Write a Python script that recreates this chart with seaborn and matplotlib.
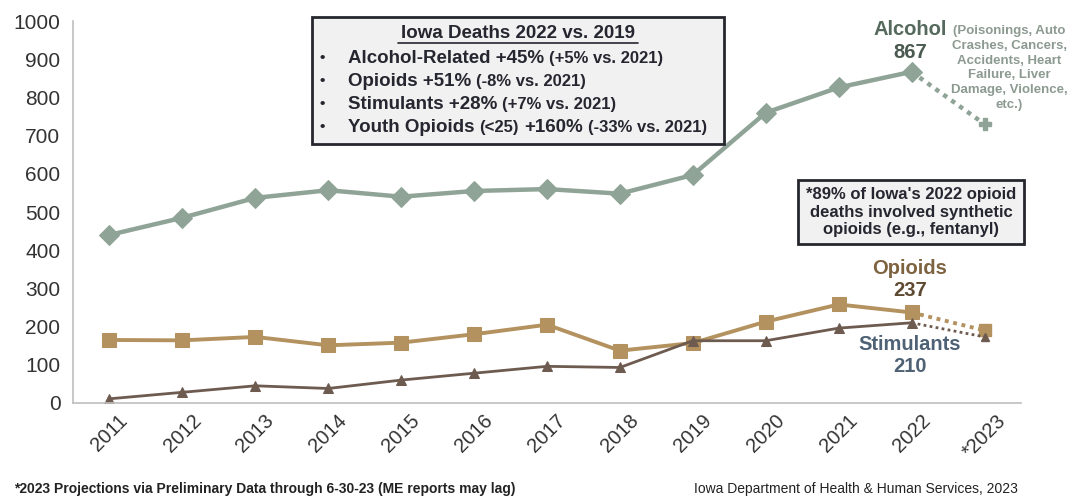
import numpy as np
import pandas as pd
import matplotlib
matplotlib.use('Agg')
import matplotlib.pyplot as plt
import seaborn as sns

years = ['2011', '2012', '2013', '2014', '2015', '2016', '2017', '2018',
         '2019', '2020', '2021', '2022', '*2023']
alcohol = [440, 485, 537, 557, 540, 555, 560, 548, 597, 760, 826, 867, 730]
opioids = [165, 164, 173, 151, 158, 180, 205, 137, 157, 213, 258, 237, 190]
stimulants = [11, 28, 45, 38, 60, 78, 96, 93, 163, 163, 196, 210, 173]

c_alc = '#8fa497'
c_opi = '#b3925f'
c_sti = '#6e5b50'

sns.set_style('white')
plt.rcParams['font.family'] = ['Liberation Sans', 'DejaVu Sans']

W, H = 1068, 498
fig = plt.figure(figsize=(W / 100, H / 100), dpi=100)
ax = fig.add_axes([73 / W, 1 - 403 / H, (1021 - 73) / W, (403 - 21) / H])


def px(x, y):
    return x / W, 1 - y / H


x = np.arange(len(years))
series = [
    (alcohol, c_alc, 'D', 10.5, 3.2),
    (opioids, c_opi, 's', 10, 2.8),
    (stimulants, c_sti, '^', 7.5, 2.0),
]
for vals, col, mk, ms, lw in series:
    df = pd.DataFrame({'x': x, 'y': vals})
    solid = df.iloc[:-1]
    proj = df.iloc[-2:]
    sns.lineplot(data=proj, x='x', y='y', ax=ax, color=col, linewidth=lw,
                 linestyle=(0, (1, 1.2)), marker=None)
    sns.lineplot(data=solid, x='x', y='y', ax=ax, color=col, linewidth=lw,
                 marker=mk, markersize=ms, markeredgecolor=col)
    pm = 'P' if mk == 'D' else mk
    ax.plot(x[-1], vals[-1], marker=pm, markersize=ms * 0.85, color=col,
            markeredgecolor=col, linestyle='none')

ax.set_xlim(-0.5, len(years) - 0.5)
ax.set_ylim(0, 1000)
ax.set_yticks(range(0, 1001, 100))
ax.set_xticks(x)
ax.set_xticklabels(years, rotation=45, ha='center', fontsize=14.5, color='#333333')
ax.set_xticks(np.arange(-0.5, len(years), 1), minor=True)
ax.tick_params(axis='x', which='major', length=0, pad=6)
ax.tick_params(axis='x', which='minor', length=6, color='#bfbfbf', direction='out')
ax.tick_params(axis='y', length=5, color='#bfbfbf', direction='out',
               labelsize=15, labelcolor='#333333', pad=4)
ax.set_xlabel('')
ax.set_ylabel('')
for s in ['top', 'right']:
    ax.spines[s].set_visible(False)
for s in ['left', 'bottom']:
    ax.spines[s].set_color('#bfbfbf')
    ax.spines[s].set_linewidth(1.2)

# summary box
box = plt.Rectangle(px(312, 144), (724 - 312) / W, (144 - 17) / H,
                    transform=fig.transFigure, facecolor='#f1f1f1',
                    edgecolor='#26262e', linewidth=2, zorder=5)
fig.add_artist(box)
dark = '#262630'
fig.text(*px(518, 34), 'Iowa Deaths 2022 vs. 2019', ha='center', va='center',
         fontsize=13.5, fontweight='bold', color=dark, zorder=10)
fig.add_artist(plt.Line2D([px(398, 0)[0], px(638, 0)[0]], [px(0, 43)[1]] * 2,
                          color=dark, linewidth=1.2, transform=fig.transFigure,
                          zorder=10))

renderer = fig.canvas.get_renderer()
rows = [
    [('Alcohol-Related +45%', 13.5), ('(+5% vs. 2021)', 12)],
    [('Opioids +51%', 13.5), ('(-8% vs. 2021)', 12)],
    [('Stimulants +28%', 13.5), ('(+7% vs. 2021)', 12)],
    [('Youth Opioids', 13.5), ('(<25)', 12), ('+160%', 13.5), ('(-33% vs. 2021)', 12)],
]
for i, parts in enumerate(rows):
    yy = 58 + i * 23
    fig.text(*px(320, yy), '•', ha='left', va='center', fontsize=11,
             fontweight='bold', color=dark, zorder=10)
    xx = 348
    for txt, fs in parts:
        tt = fig.text(*px(xx, yy + 0.5), txt, ha='left', va='center', fontsize=fs,
                      fontweight='bold', color=dark, zorder=10)
        bb = tt.get_window_extent(renderer)
        xx += bb.width + 5

# right-hand labels
fig.text(*px(910, 29), 'Alcohol', ha='center', va='center', fontsize=14.5,
         fontweight='bold', color='#55695c')
fig.text(*px(910, 52), '867', ha='center', va='center', fontsize=14.5,
         fontweight='bold', color='#4a5a50')
fig.text(*px(1009, 68), '(Poisonings, Auto\nCrashes, Cancers,\nAccidents, Heart\n'
         'Failure, Liver\nDamage, Violence,\netc.)', ha='center', va='center',
         fontsize=9.5, fontweight='bold', color='#8c9a91', linespacing=1.3)

fig.text(*px(911, 212), "*89% of Iowa's 2022 opioid\ndeaths involved synthetic\n"
         "opioids (e.g., fentanyl)", ha='center', va='center', fontsize=12,
         fontweight='bold', color=dark, linespacing=1.2,
         bbox=dict(boxstyle='square,pad=0.45', facecolor='#f1f1f1',
                   edgecolor='#26262e', linewidth=2))

fig.text(*px(910, 268), 'Opioids', ha='center', va='center', fontsize=14.5,
         fontweight='bold', color='#7d6340')
fig.text(*px(910, 290), '237', ha='center', va='center', fontsize=14.5,
         fontweight='bold', color='#5e4a32')
fig.text(*px(910, 344), 'Stimulants', ha='center', va='center', fontsize=14.5,
         fontweight='bold', color='#4f6275')
fig.text(*px(910, 366), '210', ha='center', va='center', fontsize=14.5,
         fontweight='bold', color='#4f6275')

# footer
fig.text(*px(14, 489), '*2023 Projections via Preliminary Data through 6-30-23 '
         '(ME reports may lag)', ha='left', va='center', fontsize=10,
         fontweight='bold', color='#222222')
fig.text(*px(1018, 489), 'Iowa Department of Health & Human Services, 2023',
         ha='right', va='center', fontsize=10, color='#222222')

fig.savefig('out.png', dpi=100)
